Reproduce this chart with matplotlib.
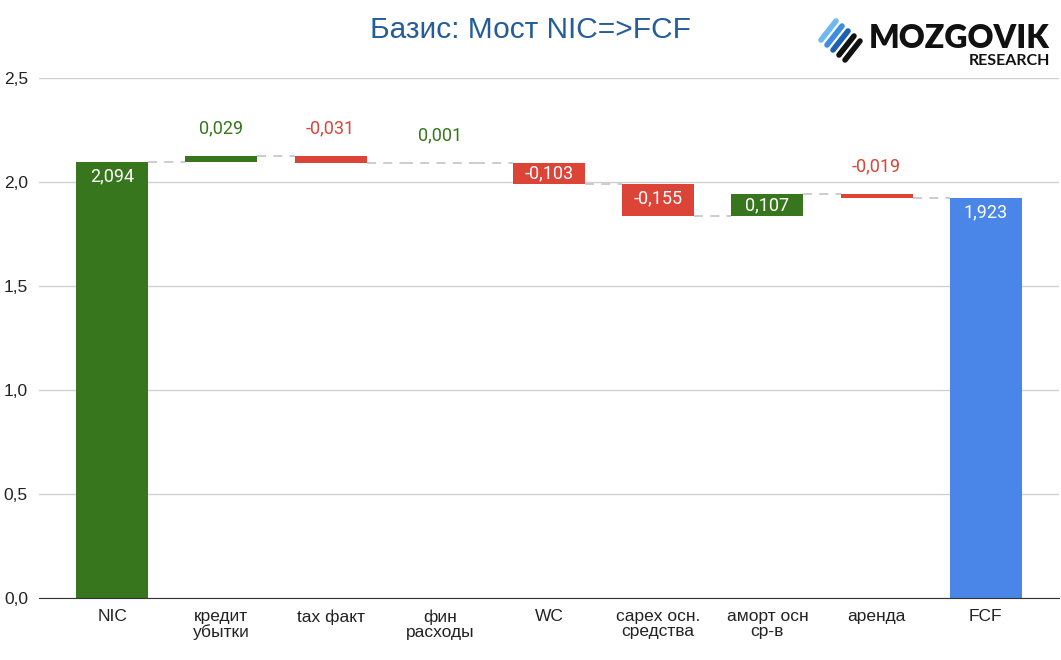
import numpy as np
import matplotlib.pyplot as plt
from matplotlib.ticker import FuncFormatter

plt.rcParams['font.family'] = ['Roboto', 'DejaVu Sans']

# Data
categories = ['NIC', 'кредит\nубытки', 'tax факт', 'фин\nрасходы', 'WC',
              'capex осн.\nсредства', 'аморт осн\nср-в', 'аренда', 'FCF']
start_value = 2.094
deltas = [0.029, -0.031, 0.001, -0.103, -0.155, 0.107, -0.019]
end_value = 1.923

green = '#38761d'
red = '#db4437'
blue = '#4a86e8'


def comma(v, decimals=3):
    return f'{v:.{decimals}f}'.replace('.', ',')


# waterfall pieces
bottoms, heights, colors, totals = [], [], [], []
bottoms.append(0)
heights.append(start_value)
colors.append(green)
run = start_value
totals.append(run)
for d in deltas:
    new = run + d
    bottoms.append(min(run, new))
    heights.append(abs(d))
    colors.append(green if d > 0 else red)
    run = new
    totals.append(run)
bottoms.append(0)
heights.append(end_value)
colors.append(blue)
totals.append(end_value)
values = [start_value] + deltas + [end_value]

fig = plt.figure(figsize=(10.61, 6.6), dpi=100)
ax = fig.add_axes([39 / 1061, 1 - 598 / 660, 1020 / 1061, 520 / 660])

x = np.arange(len(categories))
w = 0.66
ax.bar(x, heights, bottom=bottoms, width=w, color=colors, zorder=3)

# dashed connectors
for i in range(len(categories) - 1):
    lvl = totals[i]
    ax.plot([x[i] + w / 2, x[i + 1] - w / 2], [lvl, lvl], color='#c8c8c8',
            lw=1.3, ls=(0, (5, 4)), zorder=2)
    # bars too thin to see get a dashed line through them
    if heights[i + 1] < 0.005:
        ax.plot([x[i + 1] - w / 2, x[i + 1] + w / 2], [lvl, lvl],
                color='#c8c8c8', lw=1.3, ls=(0, (5, 4)), zorder=2)

# labels
px = 520 / 2.5  # pixels per unit
for i, v in enumerate(values):
    top = bottoms[i] + heights[i]
    if heights[i] >= 0.05:
        off = min(heights[i] / 2, 14 / px)
        ax.text(x[i], top - off, comma(v), color='white', ha='center',
                va='center', fontsize=13, zorder=4)
    else:
        ax.annotate(comma(v), (x[i], top), xytext=(0, 20),
                    textcoords='offset points', ha='center', va='center',
                    color=colors[i], fontsize=13, zorder=4)

ax.set_xlim(-0.67, len(categories) - 1 + 0.67)
ax.set_ylim(0, 2.5)
ax.set_yticks(np.arange(0, 2.51, 0.5))
ax.yaxis.set_major_formatter(FuncFormatter(lambda v, p: comma(v, 1)))
ax.set_xticks(x)
ax.set_xticklabels(categories, linespacing=1.0)
for lab in ax.get_xticklabels() + ax.get_yticklabels():
    lab.set_family(['Liberation Sans', 'DejaVu Sans'])
    lab.set_fontsize(12.5)
ax.tick_params(axis='both', length=0, labelcolor='#222222')
ax.tick_params(axis='y', pad=8)
ax.tick_params(axis='x', pad=8)
ax.grid(axis='y', color='#d0d0d0', lw=1, zorder=0)
for s in ['top', 'right', 'left']:
    ax.spines[s].set_visible(False)
ax.spines['bottom'].set_color('#333333')
ax.spines['bottom'].set_zorder(5)

fig.text(530 / 1061, 1 - 30 / 660, 'Базис: Мост NIC=>FCF', ha='center',
         va='center', fontsize=21.5, color='#245d98',
         family=['Liberation Sans', 'DejaVu Sans'])

# logo
icon_cols = ['#6fb7f5', '#3d8ee0', '#1d5fb0', '#111111', '#111111']
for k, c in enumerate(icon_cols):
    x0 = 821 + k * 6
    y0 = 40 + k * 5
    fig.add_artist(plt.Line2D([x0 / 1061, (x0 + 15) / 1061],
                              [1 - y0 / 660, 1 - (y0 - 19) / 660],
                              color=c, lw=4, solid_capstyle='round'))
fig.text(1050 / 1061, 1 - 39 / 660, 'MOZGOVIK', ha='right', va='center',
         fontsize=23, fontweight='heavy', family='Lato', color='#111111')
fig.text(1050 / 1061, 1 - 61 / 660, 'RESEARCH', ha='right', va='center',
         fontsize=11.5, fontweight='bold', family='Lato', color='#111111')

fig.savefig('out.png', dpi=100)
